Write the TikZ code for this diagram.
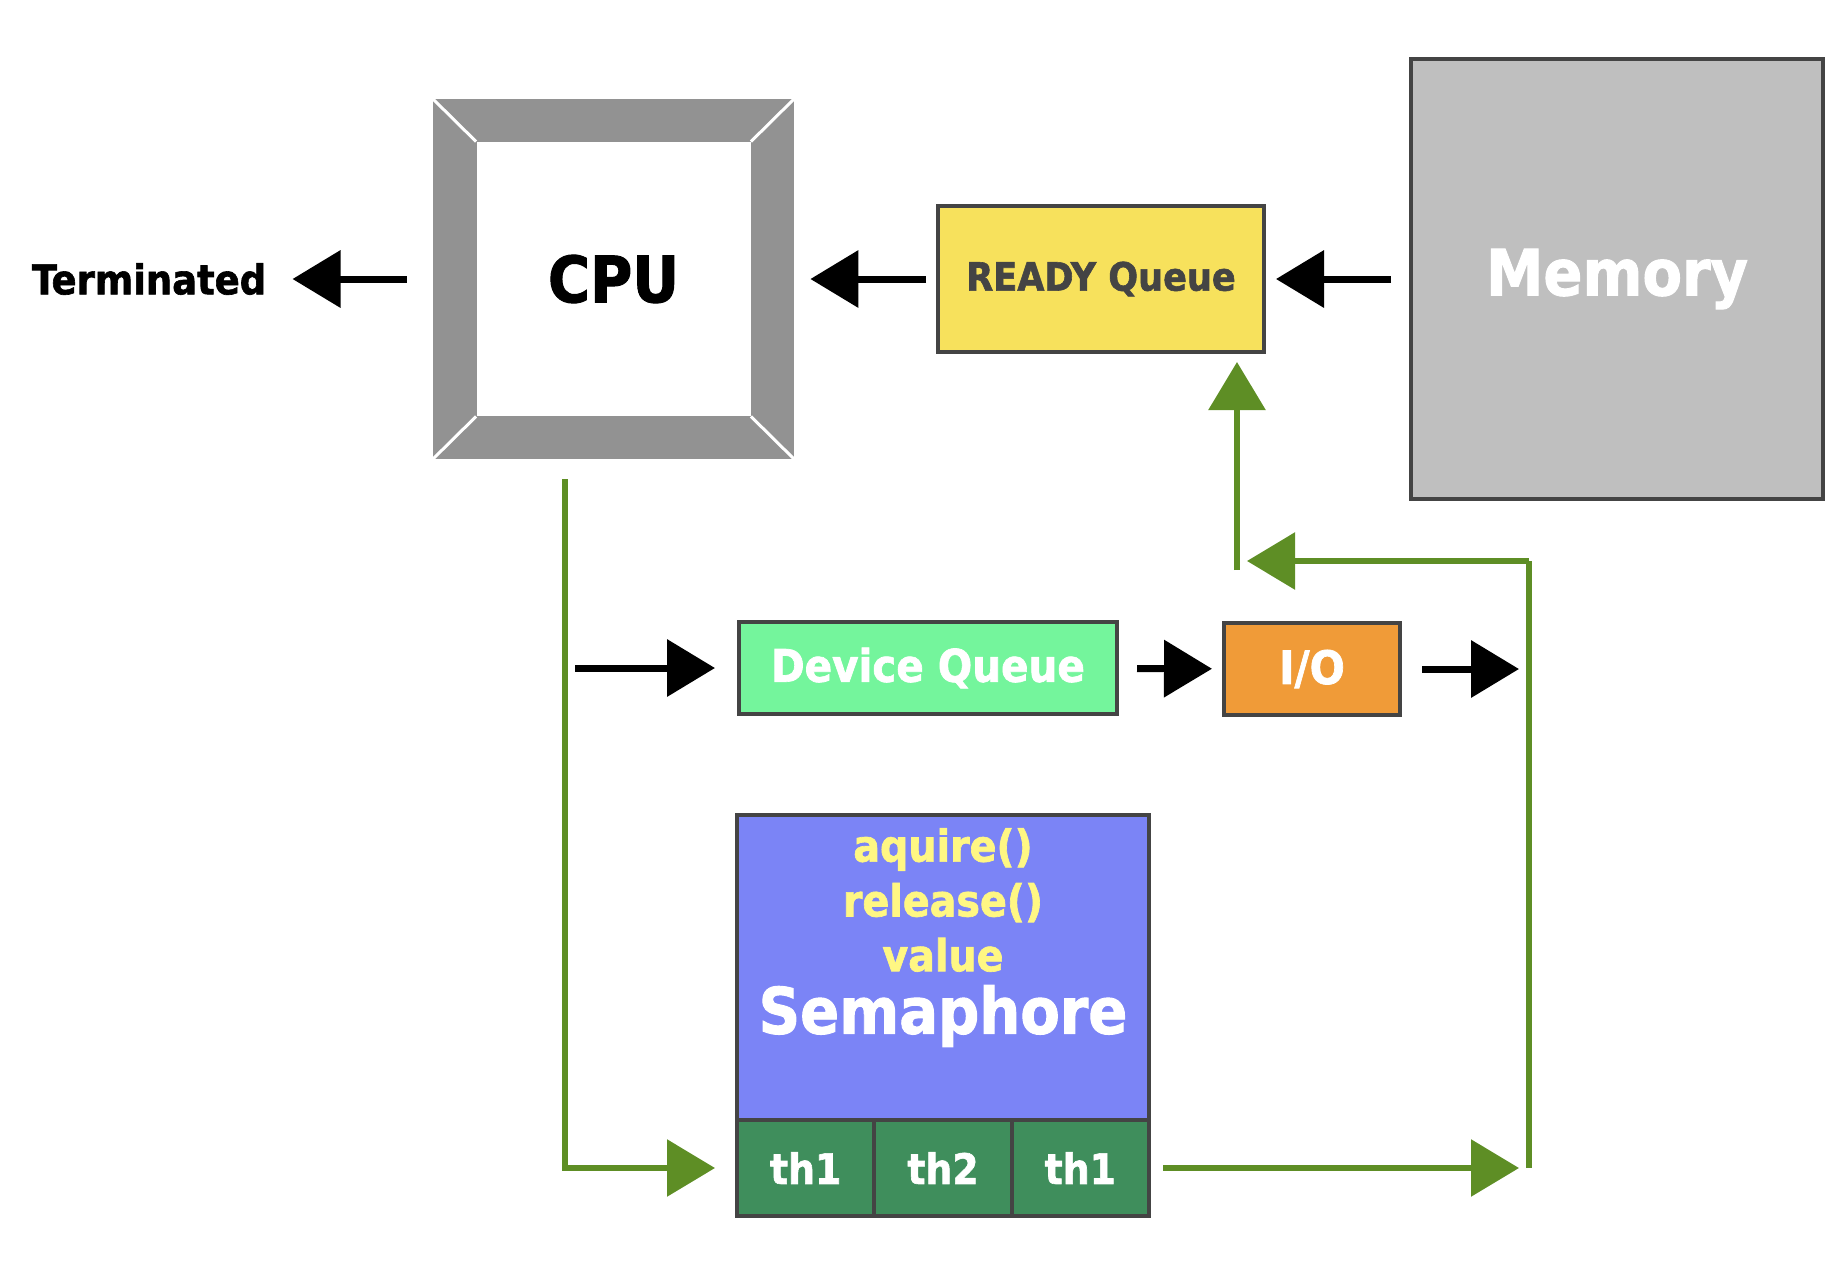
\documentclass[tikz,border=0pt]{standalone}
\usepackage{fontspec}
\newfontfamily\dfont{DejaVu Sans Condensed Bold}[FakeBold=1.5]
\usetikzlibrary{positioning}
\usetikzlibrary{arrows.meta}
\definecolor{bevel}{HTML}{929292}
\definecolor{edge}{HTML}{444444}
\definecolor{readyfill}{HTML}{F7E15C}
\definecolor{memfill}{HTML}{BFBFBF}
\definecolor{devfill}{HTML}{74F59C}
\definecolor{iofill}{HTML}{F09B38}
\definecolor{semfill}{HTML}{7B84F6}
\definecolor{opstext}{HTML}{FFF783}
\definecolor{thfill}{HTML}{3F8E5C}
\definecolor{crayon}{HTML}{5E8E25}
\newcommand{\fsz}[1]{\dfont\fontsize{#1}{1.2\dimexpr#1\relax}\selectfont}
\tikzset{box/.style={draw=edge,line width=2pt,inner sep=0pt,outer sep=0pt},
         blk/.style={draw=black,line width=3.5pt,-{Triangle[length=24pt,width=28pt]}},
         grnline/.style={draw=crayon,line width=3pt},
         grn/.style={grnline,-{Triangle[length=24pt,width=28pt]}},
         thcell/.style={box,fill=thfill,text=white,minimum width=68.67pt,minimum height=48pt,font=\fsz{21pt}},
         }
\begin{document}
\begin{tikzpicture}[x=0.5pt,y=-0.5pt]
\useasboundingbox (0,0) rectangle (1844,1260);
% top row
\node[fill=bevel,minimum width=180.5pt,minimum height=180pt,inner sep=0pt] (cpu) at (613.5,279) {};
\node[fill=white,minimum width=137pt,minimum height=137pt,inner sep=0pt,font=\fsz{32pt}] (cpuin) at (cpu) {CPU};
\foreach \c in {north west,north east,south west,south east}
  \draw[white,line width=1.5pt] (cpu.\c) -- (cpuin.\c);
\node[inner sep=0pt,font=\fsz{20.5pt}] (term) at (149,279) {Terminated};
\node[box,fill=readyfill,text=edge,minimum width=163pt,minimum height=73pt,font=\fsz{19.5pt}] (ready) at (1101,279) {READY Queue};
\node[box,fill=memfill,text=white,minimum width=206pt,minimum height=220pt,font=\fsz{32pt}] (mem) at (1617,279) {};
\node[text=white,font=\fsz{32pt}] (memtxt) at (1617,279) {Memory};
% middle row
\node[box,fill=devfill,text=white,minimum width=189pt,minimum height=46pt,font=\fsz{22.5pt}] (dq) at (928,668) {Device Queue};
\node[box,fill=iofill,text=white,minimum width=88pt,minimum height=46pt,font=\fsz{23pt}] (io) at (1312,669) {I/O};
% semaphore
\node[box,fill=semfill,minimum width=206pt,minimum height=152.5pt] (sem) at (943,967.5) {};
\node[text=opstext,align=center,font=\fsz{22pt},inner sep=0pt] (ops) at (943,900) {aquire()\\[1pt]release()\\[1pt]value};
\node[text=white,font=\fsz{32pt},inner sep=0pt] (semname) at (943,1016) {Semaphore};
\node[thcell,anchor=north west] (th1) at (sem.south west) {th1};
\node[thcell,right=0pt of th1] (th2) {th2};
\node[thcell,right=0pt of th2] (th3) {th1};
% helper points
\coordinate (cpudrop) at (565,479);
\coordinate (rt) at (1529,1168);
\coordinate (rtop) at (1529,561);
\coordinate (upbase) at (1237,570);
% black arrows
\draw[blk,shorten <=13pt,shorten >=13pt] (cpu) -- (term);
\draw[blk,shorten <=6pt,shorten >=8pt] (ready) -- (cpu);
\draw[blk,shorten <=10pt,shorten >=6pt] (mem) -- (ready);
\draw[blk,shorten <=5pt,shorten >=12pt] (cpudrop |- dq) -- (dq);
\draw[blk,shorten <=10pt,shorten >=6pt] (dq) -- (io);
\draw[blk,shorten <=11pt,shorten >=5pt] (io) -- (rt |- io);
% green loop
\draw[grn,shorten >=11pt] (cpudrop) |- (th1);
\draw[grn,shorten <=7pt,shorten >=5pt] (th3) -- (rt);
\draw[grnline] (rt) -- (rtop);
\draw[grn,shorten >=5pt] (rtop) -- (rtop -| upbase);
\draw[grn,shorten >=5pt] (upbase) -- (upbase |- ready.south);
\end{tikzpicture}
\end{document}
